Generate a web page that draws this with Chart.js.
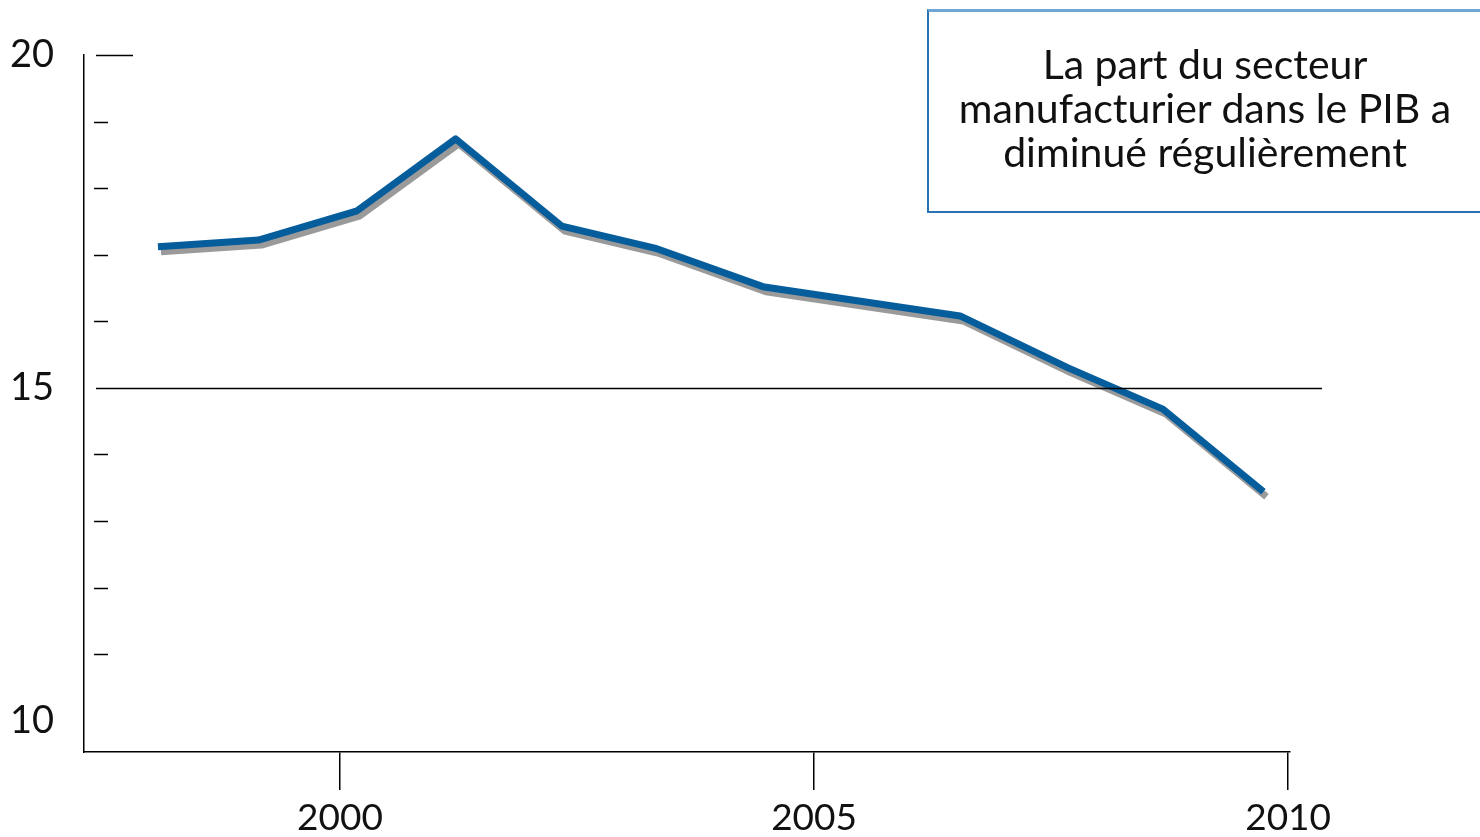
<!DOCTYPE html>
<html>
<head>
<meta charset="utf-8">
<script src="https://cdn.jsdelivr.net/npm/chart.js@4"></script>
<style>
  html, body { margin: 0; padding: 0; background: #fff; }
  #wrap { position: relative; width: 1480px; height: 837px; overflow: hidden; }
  #note {
    position: absolute; left: 927px; top: 9px; width: 552px; height: 199px;
    border: 2px solid #2a72b4; border-top: 3px solid #6fa6d6;
    font-family: Lato, sans-serif; font-size: 41px; line-height: 44px;
    color: #111; text-align: center; box-sizing: content-box;
  }
  #note div { margin-top: 30px; }
</style>
</head>
<body>
<div id="wrap">
  <canvas id="line-chart" width="1480" height="837"></canvas>
  <div id="note"><div>La part du secteur<br>manufacturier dans le PIB a<br>diminué régulièrement</div></div>
</div>
<script>
// positions of the points along the year axis
var years = [1998.08, 1999.14, 2000.18, 2001.22, 2002.34, 2003.32, 2004.46, 2006.54, 2007.68, 2008.68, 2009.74];
// share of manufacturing in GDP (%)
var share = [17.12, 17.22, 17.66, 18.74, 17.43, 17.10, 16.52, 16.08, 15.30, 14.68, 13.44];

var xTicks = [2000, 2005, 2010];
var yTicks = [11, 12, 13, 14, 15, 16, 17, 18, 19, 20];
var yLabels = [10, 15, 20];

var axisMarks = {
  id: 'axisMarks',
  afterDraw: function(chart) {
    // little tick marks drawn inside the plot, next to the y axis
    var ctx = chart.ctx;
    var y = chart.scales.y;
    var left = chart.chartArea.left;
    ctx.save();
    ctx.strokeStyle = '#000';
    ctx.lineWidth = 1.5;
    yTicks.forEach(function(v) {
      var py = Math.round(y.getPixelForValue(v)) + 0.5;
      ctx.beginPath();
      if (v === 15) {
        ctx.moveTo(left + 12, py);
        ctx.lineTo(chart.chartArea.right + 32, py);
      } else if (yLabels.indexOf(v) >= 0) {
        ctx.moveTo(left + 12, py);
        ctx.lineTo(left + 49, py);
      } else {
        ctx.moveTo(left + 10, py);
        ctx.lineTo(left + 24, py);
      }
      ctx.stroke();
    });
    ctx.restore();
  }
};

var lineShadow = {
  id: 'lineShadow',
  beforeDatasetsDraw: function(chart) {
    var ctx = chart.ctx;
    ctx.save();
    ctx.shadowColor = 'rgba(120,120,120,0.75)';
    ctx.shadowOffsetX = 3;
    ctx.shadowOffsetY = 5;
    ctx.shadowBlur = 0;
  },
  afterDatasetsDraw: function(chart) {
    chart.ctx.restore();
  }
};

new Chart(document.getElementById('line-chart'), {
  type: 'line',
  data: {
    datasets: [{
      label: 'Part du secteur manufacturier dans le PIB',
      data: years.map(function(x, i) { return {x: x, y: share[i]}; }),
      borderColor: '#065d9c',
      borderWidth: 7,
      borderJoinStyle: 'round',
      pointRadius: 0,
      tension: 0,
      fill: false
    }]
  },
  plugins: [lineShadow, axisMarks],
  options: {
    responsive: false,
    animation: false,
    layout: { padding: { left: 0, top: 55, right: 190, bottom: 0 } },
    plugins: {
      legend: { display: false },
      tooltip: { enabled: false }
    },
    scales: {
      x: {
        type: 'linear',
        min: 1997.30,
        max: 2010.02,
        afterBuildTicks: function(scale) {
          scale.ticks = xTicks.map(function(v) { return {value: v}; });
        },
        afterFit: function(scale) { scale.height = 85; },
        border: { display: true, color: '#000', width: 1.5 },
        grid: { display: true, drawOnChartArea: false, drawTicks: true, tickLength: 38, color: '#000', lineWidth: 1.5 },
        ticks: {
          color: '#111',
          padding: 6,
          maxRotation: 0,
          font: { family: 'Lato', size: 37 },
          callback: function(v) { return String(v); }
        }
      },
      y: {
        type: 'linear',
        min: 9.53,
        max: 20,
        afterBuildTicks: function(scale) {
          scale.ticks = yLabels.map(function(v) { return {value: v}; });
        },
        afterFit: function(scale) { scale.width = 84; },
        border: { display: true, color: '#000', width: 1.5 },
        grid: { display: false },
        ticks: {
          color: '#111',
          padding: 22,
          font: { family: 'Lato', size: 38 },
          callback: function(v) { return String(v); }
        }
      }
    }
  }
});
</script>
</body>
</html>
